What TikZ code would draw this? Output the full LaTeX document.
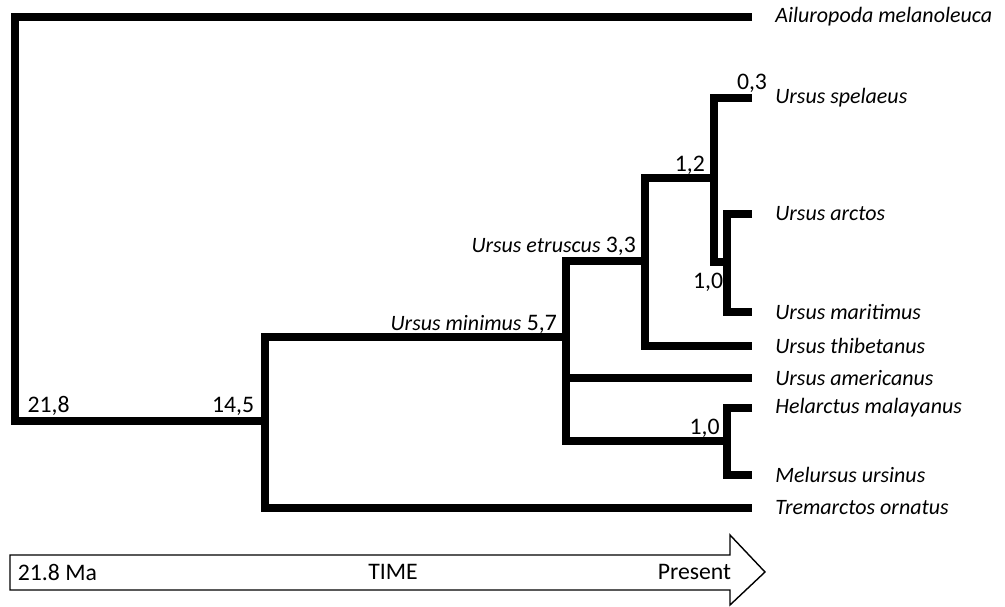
\documentclass[tikz,border=0pt]{standalone}
\usepackage{fontspec}
\setmainfont{Carlito}
\usepackage{tikz}
\usetikzlibrary{positioning}

\tikzset{
  branch/.style={line width=4pt, line join=miter},
  leaf/.style={anchor=west, inner xsep=0.46cm, inner ysep=0pt, font=\fontsize{12.5}{14}\selectfont\itshape},
  age/.style={inner sep=2pt, font=\fontsize{13.5}{15}\selectfont},
  timebar/.style={line width=0.8pt, fill=white, line join=miter}
}
\newcommand{\taxon}[1]{{\fontsize{12.5}{14}\selectfont\itshape #1}}

\begin{document}
\begin{tikzpicture}[x=0.02cm, y=-0.02cm]
  \useasboundingbox (0,0) rectangle (1005,607);

  % Leaves
  \node[leaf] (ailuropoda) at (752,17)  {Ailuropoda melanoleuca};
  \node[leaf] (spelaeus)   at (752,98)  {Ursus spelaeus};
  \node[leaf] (arctos)     at (752,214) {Ursus arctos};
  \node[leaf] (maritimus)  at (752,312) {Ursus maritimus};
  \node[leaf] (thibetanus) at (752,346) {Ursus thibetanus};
  \node[leaf] (americanus) at (752,378) {Ursus americanus};
  \node[leaf] (malayanus)  at (752,408) {Helarctus malayanus};
  \node[leaf] (ursinus)    at (752,475) {Melursus ursinus};
  \node[leaf] (ornatus)    at (752,508) {Tremarctos ornatus};

  % Internal nodes
  \coordinate (root)    at (15,421);
  \coordinate (n145)    at (265,421);
  \coordinate (n57)     at (566,337);
  \coordinate (n33)     at (645,261);
  \coordinate (n12)     at (714,178);
  \coordinate (n10up)   at (727,262);
  \coordinate (n10low)  at (727,441);

  % Branches
  \draw[branch] (ailuropoda.west) -| (root) -- (n145);
  \draw[branch] (n57) -| (n145) |- (ornatus.west);
  \draw[branch] (n33) -| (n57) |- (n10low);
  \draw[branch] (n57) |- (americanus.west);
  \draw[branch] (n12) -| (n33) |- (thibetanus.west);
  \draw[branch] (spelaeus.west) -| (n12) |- (n10up);
  \draw[branch] (arctos.west) -| (n10up) |- (maritimus.west);
  \draw[branch] (malayanus.west) -| (n10low) |- (ursinus.west);

  % Ages
  \node[age, anchor=south west] (a218) at ([xshift=5pt, yshift=1pt]root) {21,8};
  \node[age, anchor=south east] (a145) at ([xshift=-4pt, yshift=1pt]n145) {14,5};
  \node[age, anchor=south east] (a57)  at ([xshift=-3pt]n57)  {\taxon{Ursus minimus} 5,7};
  \node[age, anchor=south east] (a33)  at ([xshift=-3pt, yshift=1pt]n33)  {\taxon{Ursus etruscus} 3,3};
  \node[age, anchor=south east] (a12)  at ([xshift=-3pt]n12)  {1,2};
  \node[age, anchor=south]      (a03)  at ([yshift=1pt]spelaeus.west) {0,3};
  \node[age, anchor=north east] (a10a) at ([yshift=-4pt]n10up) {1,0};
  \node[age, anchor=south east] (a10b) at ([xshift=-2pt]n10low) {1,0};

  % Time arrow
  \draw[timebar] (10,555) -- (730,555) -- (730,535) -- (765,572) -- (730,605)
       -- (730,590) -- (10,590) -- cycle;
  \node[age, anchor=west] (start)   at (14,572)  {21.8 Ma};
  \node[age]              (time)    at (393,572) {TIME};
  \node[age, anchor=east] (present) at (735,572) {Present};
\end{tikzpicture}
\end{document}
